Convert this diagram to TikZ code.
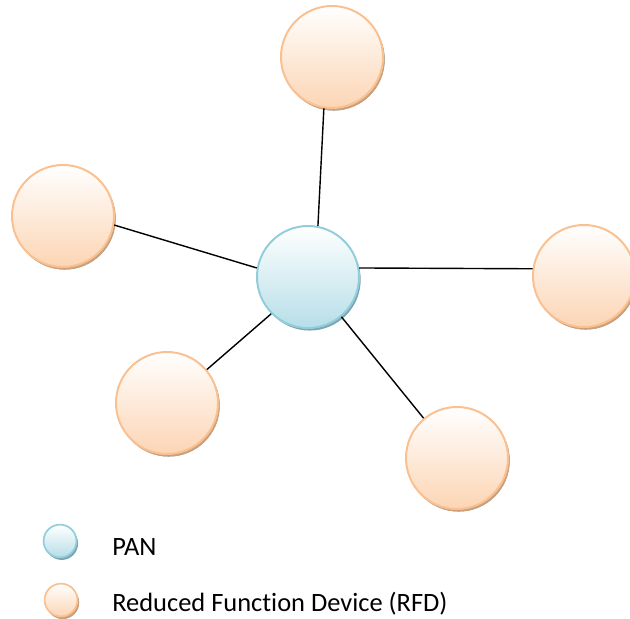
\documentclass[tikz,border=0pt]{standalone}
\usepackage{fontspec}
\setmainfont[Ligatures=NoCommon]{Carlito}
\usetikzlibrary{shadows}

\definecolor{panline}{RGB}{146,205,220}
\definecolor{panfill}{RGB}{183,222,232}
\definecolor{panshadow}{RGB}{125,165,178}
\definecolor{rfdline}{RGB}{250,192,144}
\definecolor{rfdfill}{RGB}{252,213,180}
\definecolor{rfdshadow}{RGB}{205,160,122}

\begin{document}
\begin{tikzpicture}[x=0.025cm,y=-0.025cm,
  pan/.style={circle,draw=panline,line width=1.4pt,top color=white,bottom color=panfill,
    minimum size=2.55cm,drop shadow={shadow xshift=1.2pt,shadow yshift=-1.8pt,fill=panshadow,opacity=1}},
  rfd/.style={pan,draw=rfdline,bottom color=rfdfill,
    drop shadow={shadow xshift=1.2pt,shadow yshift=-1.8pt,fill=rfdshadow,opacity=1}},
  small/.style={minimum size=0.82cm,line width=1.2pt},
  link/.style={line width=1pt,black},
  label/.style={anchor=base west,inner sep=0pt,font=\fontsize{18.8}{22}\selectfont}]
\useasboundingbox (0,0) rectangle (630,618);

% coordinator in the middle, devices around it
\node[pan] (coord) at (308,277) {};
\node[rfd] (top) at (332,57) {};
\node[rfd] (left) at (63,216) {};
\node[rfd] (right) at (584,276) {};
\node[rfd] (lowleft) at (167,403) {};
\node[rfd] (lowright) at (457,458) {};

\draw[link] (coord.79) -- (top.261);
\draw[link] (coord.170) -- (left.350);
\draw[link] (coord.10) -- (right.172);
\draw[link] (coord.225) -- (lowleft.40);
\draw[link] (coord.310) -- (lowright.130);

% legend
\node[pan,small] (keypan) at (60,541) {};
\node[rfd,small] (keyrfd) at (61,600) {};
\node[label] (txtpan) at (112,555) {PAN};
\node[label] (txtrfd) at (112,611) {Reduced Function Device (RFD)};
\end{tikzpicture}
\end{document}
